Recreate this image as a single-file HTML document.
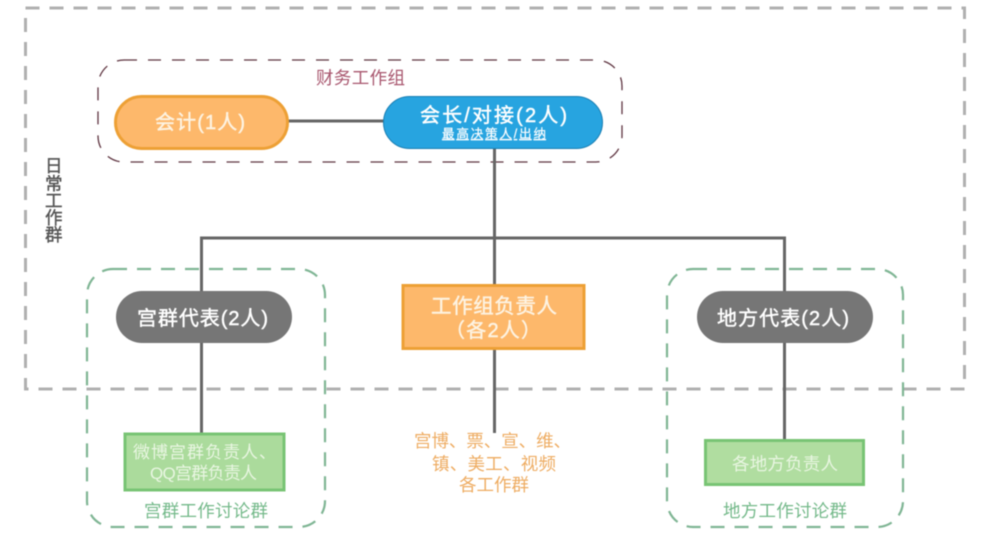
<!DOCTYPE html>
<html><head><meta charset="utf-8">
<style>
html,body{margin:0;padding:0;background:#fff}
svg{display:block}
text{font-family:"Liberation Sans","Noto Sans CJK SC",sans-serif;text-anchor:start}
</style></head>
<body>
<svg width="1005" height="549" viewBox="0 0 1005 549" xmlns="http://www.w3.org/2000/svg">
<rect width="1005" height="549" fill="#fff"/>
<g style="filter:blur(.45px)">
<rect x="25.500" y="8" width="939" height="381" fill="none" stroke="#b0b0b0" stroke-width="3" stroke-dasharray="14 10"/>
<rect x="98" y="60" width="524" height="102" rx="26" fill="none" stroke="#5e3440" stroke-width="1.300" stroke-dasharray="13 11"/>
<rect x="87" y="269" width="238" height="258" rx="26" fill="none" stroke="#7fb594" stroke-width="2.200" stroke-dasharray="14 10"/>
<rect x="667" y="269" width="236" height="258" rx="26" fill="none" stroke="#7fb594" stroke-width="2.200" stroke-dasharray="14 10"/>

<g stroke="#666" stroke-width="3" fill="none">
<line x1="288" y1="121" x2="384" y2="121"/>
<line x1="494.500" y1="148" x2="494.500" y2="286"/>
<line x1="200" y1="238" x2="786" y2="238"/>
<line x1="201.500" y1="238" x2="201.500" y2="434"/>
<line x1="784.500" y1="238" x2="784.500" y2="441"/>
<line x1="494.500" y1="349" x2="494.500" y2="433"/>
</g>

<rect x="115.500" y="96.500" width="172" height="52" rx="26" fill="#fdb86b" stroke="#eda035" stroke-width="3"/>
<rect x="383.500" y="96.500" width="219" height="52" rx="26" fill="#27a4e0" stroke="#1b7fb3" stroke-width="1"/>
<rect x="116" y="291" width="176" height="52" rx="26" fill="#767676"/>
<rect x="697" y="291" width="176" height="52" rx="26" fill="#767676"/>
<rect x="403" y="285.500" width="181" height="63" fill="#fdb86b" stroke="#eda035" stroke-width="3"/>
<rect x="125" y="434" width="159" height="56" fill="#abdb9c" stroke="#78c474" stroke-width="3"/>
<rect x="705.500" y="440.500" width="158" height="44" fill="#b0dda0" stroke="#78c474" stroke-width="3"/>

<text x="316" y="84" font-size="17.500" fill="#a8566e" textLength="89">财务工作组</text>
<g stroke-width=".45">
<text x="155" y="129" font-size="20" fill="#fdf3e2" stroke="#fdf3e2" textLength="90">会计(1人)</text>
<text x="420" y="122" font-size="20" fill="#fff" stroke="#fff" textLength="147">会长/对接(2人)</text>
<text x="137" y="325" font-size="20" fill="#fff" stroke="#fff" textLength="131">宫群代表(2人)</text>
<text x="717" y="325" font-size="20" fill="#fff" stroke="#fff" textLength="132">地方代表(2人)</text>
<text x="431" y="313" font-size="20.500" fill="#fdf3e2" stroke="#fdf3e2" textLength="126">工作组负责人</text>
<text x="445" y="337" font-size="20" fill="#fdf3e2" stroke="#fdf3e2" textLength="96">（各2人）</text>
</g>
<text x="442" y="138" font-size="12.500" fill="#fff" stroke="#fff" stroke-width=".2" text-decoration="underline" textLength="104">最高决策人/出纳</text>
<text x="133" y="458" font-size="17" fill="#e9f6e2" textLength="143">微博宫群负责人、</text>
<text x="150" y="479" font-size="17" fill="#e9f6e2" textLength="107">QQ宫群负责人</text>
<text x="732" y="470" font-size="17.500" fill="#e9f6e2" textLength="106">各地方负责人</text>
<text x="144" y="517" font-size="17.500" fill="#74b98a" textLength="124">宫群工作讨论群</text>
<text x="723" y="517" font-size="17.500" fill="#74b98a" textLength="124">地方工作讨论群</text>
<text x="414" y="447" font-size="17.500" fill="#eeac62" textLength="157">宫博、票、宣、维、</text>
<text x="432" y="470" font-size="17.500" fill="#eeac62" textLength="124">镇、美工、视频</text>
<text x="459" y="491" font-size="17.500" fill="#eeac62" textLength="70">各工作群</text>
<g font-size="17.500" fill="#555" stroke="#555" stroke-width=".4">
<text x="45" y="172">日</text>
<text x="45" y="190">常</text>
<text x="45" y="207">工</text>
<text x="45" y="224">作</text>
<text x="45" y="241">群</text>
</g>
</g>
</svg>
</body></html>
